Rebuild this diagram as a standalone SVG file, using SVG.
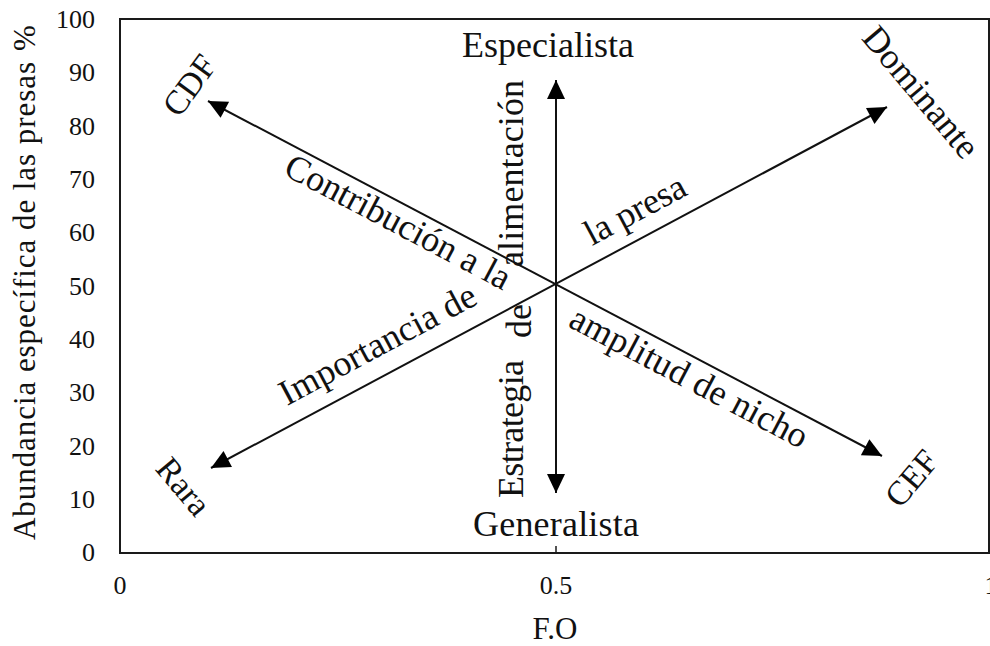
<svg xmlns="http://www.w3.org/2000/svg" width="990" height="646" viewBox="0 0 990 646">
<style>
text { font-family: "Liberation Serif", "Times New Roman", serif; fill: #111; }
.tick { font-size: 26px; }
.ann { font-size: 36px; }
.corner { font-size: 34px; }
.axis { font-size: 31px; }
.frame { fill: none; stroke: #1a1a1a; stroke-width: 2; }
.arr { fill: none; stroke: #111; stroke-width: 2; }
</style>
<defs>
<marker id="ah" viewBox="0 0 20 20" refX="20" refY="10" markerWidth="20" markerHeight="19" markerUnits="userSpaceOnUse" orient="auto-start-reverse">
<path d="M0,0.5 L20,10 L0,19.5 z" fill="#000"/>
</marker>
</defs>
<rect width="990" height="646" fill="#fff"/>
<g id="axes">
<rect class="frame" x="120" y="19" width="869" height="534"/>
<line x1="556" y1="546" x2="556" y2="553" stroke="#1a1a1a" stroke-width="1.5"/>
<g class="tick" text-anchor="end">
<text x="95" y="28">100</text>
<text x="95" y="81">90</text>
<text x="95" y="135">80</text>
<text x="95" y="188">70</text>
<text x="95" y="241">60</text>
<text x="95" y="295">50</text>
<text x="95" y="348">40</text>
<text x="95" y="401">30</text>
<text x="95" y="455">20</text>
<text x="95" y="508">10</text>
<text x="95" y="561">0</text>
</g>
<g class="tick" text-anchor="middle">
<text x="120" y="594">0</text>
<text x="556" y="594">0.5</text>
<text x="991" y="594">1</text>
</g>
<text class="axis" x="555" y="639" text-anchor="middle" font-size="28">F.O</text>
<text class="axis" transform="translate(35,0) rotate(-90)" x="-540" y="0"><tspan textLength="478" lengthAdjust="spacing">Abundancia específica de las presas</tspan><tspan x="-51">%</tspan></text>
</g>
<g id="connectors">
<line class="arr" x1="556" y1="493" x2="556" y2="80" marker-start="url(#ah)" marker-end="url(#ah)"/>
<line class="arr" x1="208" y1="101" x2="882" y2="456" marker-start="url(#ah)" marker-end="url(#ah)"/>
<line class="arr" x1="211" y1="468" x2="887" y2="107" marker-start="url(#ah)" marker-end="url(#ah)"/>
</g>
<g id="especialista"><text class="ann" x="548" y="57" text-anchor="middle" textLength="172">Especialista</text></g>
<g id="generalista"><text class="ann" x="556" y="536" text-anchor="middle" textLength="166">Generalista</text></g>
<g id="cdf"><text class="corner" transform="translate(189,85) rotate(-54)" x="0" y="12" text-anchor="middle">CDF</text></g>
<g id="dominante"><text class="ann" transform="translate(921,92) rotate(50)" x="0" y="12" text-anchor="middle">Dominante</text></g>
<g id="rara"><text class="corner" transform="translate(184,486) rotate(50)" x="0" y="12" text-anchor="middle">Rara</text></g>
<g id="cef"><text class="corner" transform="translate(911,478) rotate(-50)" x="0" y="12" text-anchor="middle">CEF</text></g>
<g id="estrategia">
<text class="ann" transform="translate(523,0) rotate(-90)"><tspan x="-498" y="0" textLength="138">Estrategia</tspan><tspan x="-338" y="8">de</tspan><tspan x="-267" y="0" textLength="187">alimentación</tspan></text>
</g>
<g id="contribucion"><text class="ann" transform="translate(282,174) rotate(27.8)" textLength="250">Contribución a la</text></g>
<g id="amplitud"><text class="ann" transform="translate(567,326) rotate(27.8)" textLength="264">amplitud de nicho</text></g>
<g id="importancia"><text class="ann" transform="translate(287,406) rotate(-28.1)" textLength="218">Importancia de</text></g>
<g id="lapresa"><text class="ann" transform="translate(592,246) rotate(-28.1)" textLength="110">la presa</text></g>
</svg>
